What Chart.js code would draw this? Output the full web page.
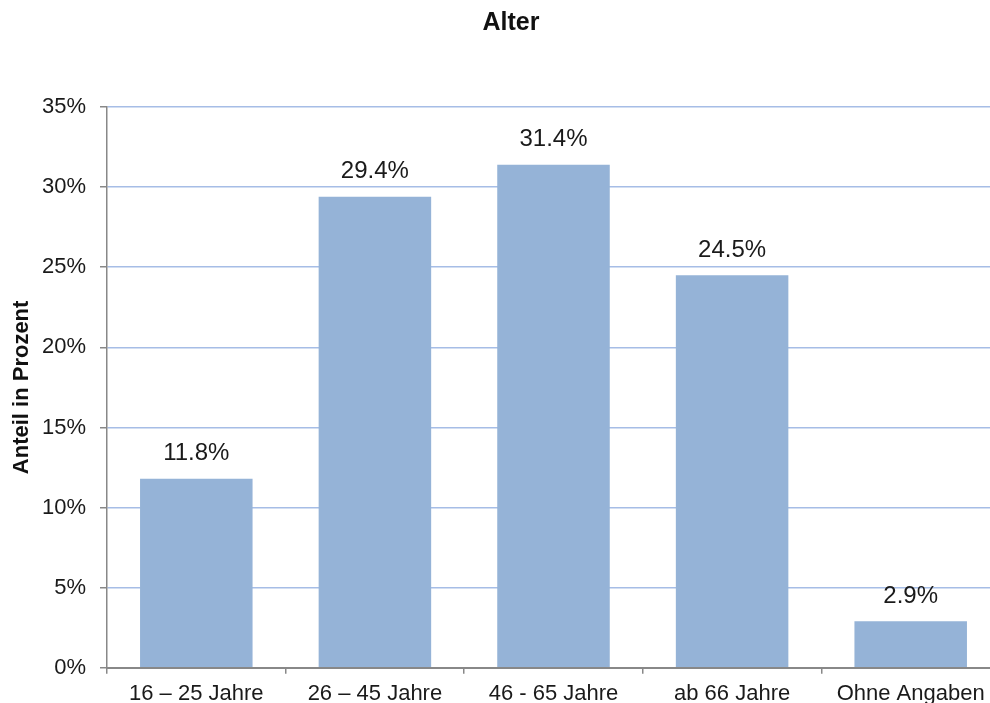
<!doctype html>
<html lang="de">
<head>
  <meta charset="utf-8">
  <title>Alter</title>
  <script src="https://cdn.jsdelivr.net/npm/chart.js@4.4.1/dist/chart.umd.min.js"></script>
  <style>
    html, body { margin: 0; padding: 0; background: #fff; overflow: hidden; }
    #wrap { width: 1000px; height: 714px; }
  </style>
</head>
<body>
<div id="wrap"><canvas id="myChart" width="1000" height="714"></canvas></div>
<script>
// data
var categories = ['16 \u2013 25 Jahre', '26 \u2013 45 Jahre', '46 - 65 Jahre', 'ab 66 Jahre', 'Ohne Angaben'];
var shares = [11.8, 29.4, 31.4, 24.5, 2.9];
var yTicks = [0, 5, 10, 15, 20, 25, 30, 35];

var FONT = 'Arial, "Liberation Sans", sans-serif';
var gray = '#888888';
var gridBlue = '#a6bde6';

// value labels above bars + chart title
var labelsPlugin = {
  id: 'labels',
  afterDatasetsDraw: function (chart) {
    var ctx = chart.ctx;
    var meta = chart.getDatasetMeta(0);
    ctx.save();
    ctx.font = '24px ' + FONT;
    ctx.fillStyle = '#1a1a1a';
    ctx.textAlign = 'center';
    ctx.textBaseline = 'middle';
    meta.data.forEach(function (bar, i) {
      ctx.fillText(shares[i].toFixed(1) + '%', bar.x, bar.y - 25);
    });
    ctx.font = 'bold 25px ' + FONT;
    ctx.fillStyle = '#111';
    ctx.fillText('Alter', 511, 23);
    ctx.restore();
  }
};

var chart = new Chart(document.getElementById('myChart').getContext('2d'), {
  type: 'bar',
  data: {
    labels: categories,
    datasets: [{
      label: 'Anteil',
      data: shares,
      backgroundColor: '#95b3d7',
      borderWidth: 0,
      categoryPercentage: 1,
      barPercentage: 0.63
    }]
  },
  options: {
    responsive: false,
    animation: false,
    layout: { padding: { top: 107, left: 0, right: 0, bottom: 0 } },
    plugins: {
      legend: { display: false },
      title: { display: false },
      tooltip: { enabled: false }
    },
    scales: {
      x: {
        offset: true,
        grid: {
          offset: true,
          drawOnChartArea: false,
          drawTicks: true,
          tickLength: 6,
          color: gray,
          lineWidth: 1.5
        },
        border: { color: gray, width: 2 },
        ticks: {
          color: '#1a1a1a',
          padding: 8,
          font: { family: FONT, size: 22, lineHeight: 1.1 },
          maxRotation: 0,
          autoSkip: false
        }
      },
      y: {
        min: yTicks[0],
        max: yTicks[yTicks.length - 1],
        afterBuildTicks: function (scale) {
          scale.ticks = yTicks.map(function (v) { return { value: v }; });
        },
        afterFit: function (scale) { scale.width = 107; },
        grid: {
          color: function (c) { return c.tick && c.tick.value === 0 ? gray : gridBlue; },
          tickColor: gray,
          lineWidth: 1.5,
          tickLength: 7
        },
        border: { color: gray, width: 1.5 },
        ticks: {
          color: '#1a1a1a',
          padding: 14,
          font: { family: FONT, size: 22 },
          callback: function (v) { return v + '%'; }
        },
        title: {
          display: true,
          text: 'Anteil in Prozent',
          color: '#111',
          font: { family: FONT, size: 22, weight: 'bold' },
          padding: { top: 9, bottom: 7 }
        }
      }
    }
  },
  plugins: [labelsPlugin]
});
</script>
</body>
</html>
